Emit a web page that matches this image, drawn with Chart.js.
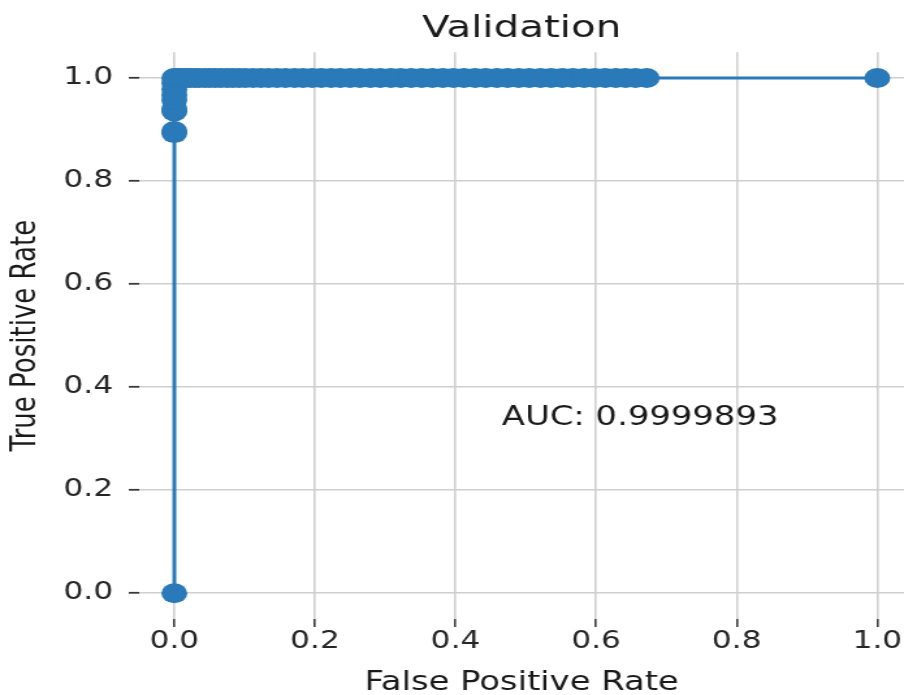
<!DOCTYPE html>
<html><head><meta charset="utf-8">
<script src="https://cdn.jsdelivr.net/npm/chart.js@4"></script>
<style>
html,body{margin:0;padding:0;overflow:hidden;background:#fff;width:904px;height:695px}
#wrap{position:absolute;left:0;top:0;width:695px;height:695px;transform:scaleX(1.3007);transform-origin:0 0}
</style></head><body>
<div id="wrap"><canvas id="c" width="695" height="695"></canvas></div>
<script>
const chartTitle = 'Validation';
const xAxisLabel = 'False Positive Rate';
const yAxisLabel = 'True Positive Rate';
const aucText = 'AUC: 0.9999893';
const xTickValues = [0, 0.2, 0.4, 0.6, 0.8, 1.0];
const xTickLabels = ['0.0', '0.2', '0.4', '0.6', '0.8', '1.0'];
const yTickValues = [0, 0.2, 0.4, 0.6, 0.8, 1.0];
const yTickLabels = ['0.0', '0.2', '0.4', '0.6', '0.8', '1.0'];

// ROC curve points (false positive rate, true positive rate)
const fpr = [0, 0, 0, 0, 0, 0, 0, 0, 0, 0,
  0.002, 0.006, 0.011, 0.017, 0.022, 0.029, 0.035, 0.043, 0.05, 0.058,
  0.066, 0.075, 0.083, 0.092, 0.101, 0.112, 0.123, 0.134, 0.146, 0.158,
  0.171, 0.183, 0.196, 0.209, 0.223, 0.236, 0.25, 0.264, 0.279, 0.293,
  0.308, 0.322, 0.337, 0.352, 0.367, 0.382, 0.397, 0.412, 0.428, 0.443,
  0.459, 0.474, 0.49, 0.505, 0.521, 0.536, 0.552, 0.567, 0.583, 0.598,
  0.613, 0.628, 0.642, 0.656, 0.672, 1.0];
const tpr = [0, 0.893, 0.897, 0.935, 0.94, 0.957, 0.967, 0.978, 0.99, 1.0,
  1, 1, 1, 1, 1, 1, 1, 1, 1, 1,
  1, 1, 1, 1, 1, 1, 1, 1, 1, 1,
  1, 1, 1, 1, 1, 1, 1, 1, 1, 1,
  1, 1, 1, 1, 1, 1, 1, 1, 1, 1,
  1, 1, 1, 1, 1, 1, 1, 1, 1, 1,
  1, 1, 1, 1, 1, 1];
const aucPos = {x: 0.466, y: 0.34};

const blue = '#2a7ab9';
const points = fpr.map((v, i) => ({x: v, y: tpr[i]}));

Chart.defaults.font.family = "'DejaVu Sans', sans-serif";

const aucPlugin = {
  id: 'aucLabel',
  afterDraw(chart) {
    const ctx = chart.ctx;
    const xs = chart.scales.x, ys = chart.scales.y;
    ctx.save();
    ctx.font = "26px 'DejaVu Sans'";
    ctx.fillStyle = '#1a1a1a';
    ctx.textAlign = 'left';
    ctx.textBaseline = 'middle';
    ctx.fillText(aucText, xs.getPixelForValue(aucPos.x), ys.getPixelForValue(aucPos.y));
    ctx.restore();
  }
};

function zeroPad(s) { s.paddingLeft = 0; s.paddingRight = 0; s.paddingTop = 0; s.paddingBottom = 0; }

new Chart(document.getElementById('c'), {
  type: 'scatter',
  data: {
    datasets: [{
      data: points,
      showLine: true,
      borderColor: blue,
      backgroundColor: blue,
      borderWidth: 3,
      pointRadius: 10,
      pointBorderWidth: 0,
      pointBackgroundColor: blue,
      tension: 0,
      clip: false
    }]
  },
  options: {
    responsive: false,
    animation: false,
    layout: {padding: 0, autoPadding: false},
    plugins: {
      legend: {display: false},
      tooltip: {enabled: false},
      title: {
        display: true,
        text: chartTitle,
        fullSize: false,
        color: '#1a1a1a',
        font: {size: 31, weight: 'normal', lineHeight: 1.2},
        padding: {top: 10, bottom: 5}
      }
    },
    scales: {
      x: {
        type: 'linear',
        min: -0.05,
        max: 1.038,
        afterBuildTicks: s => { s.ticks = xTickValues.map(v => ({value: v})); },
        afterFit: s => { s.height = 76; zeroPad(s); },
        border: {display: false},
        grid: {color: '#cfcfcf', lineWidth: 1.6, tickColor: '#3a3a3a', tickWidth: 1.6, tickLength: 8},
        ticks: {
          color: '#262626', font: {size: 24}, padding: 0, maxRotation: 0,
          callback: (v) => { const i = xTickValues.indexOf(v); return i >= 0 ? xTickLabels[i] : ''; }
        },
        title: {display: true, text: xAxisLabel, color: '#1a1a1a', font: {size: 26, lineHeight: 1.0}, padding: {top: 0, bottom: -1}}
      },
      y: {
        type: 'linear',
        min: -0.05,
        max: 1.05,
        afterBuildTicks: s => { s.ticks = yTickValues.map(v => ({value: v})); },
        afterFit: s => { s.width = 107; zeroPad(s); },
        border: {display: false},
        grid: {color: '#cfcfcf', lineWidth: 1.6, tickColor: '#3a3a3a', tickWidth: 1.8, tickLength: 8},
        ticks: {
          color: '#262626', font: {size: 24}, padding: 12,
          callback: (v) => { const i = yTickValues.indexOf(v); return i >= 0 ? yTickLabels[i] : ''; }
        },
        title: {display: true, text: yAxisLabel, color: '#1a1a1a', font: {size: 26, lineHeight: 1.2}, padding: {top: 5, bottom: 0}}
      }
    }
  },
  plugins: [aucPlugin]
});
</script>
</body></html>
